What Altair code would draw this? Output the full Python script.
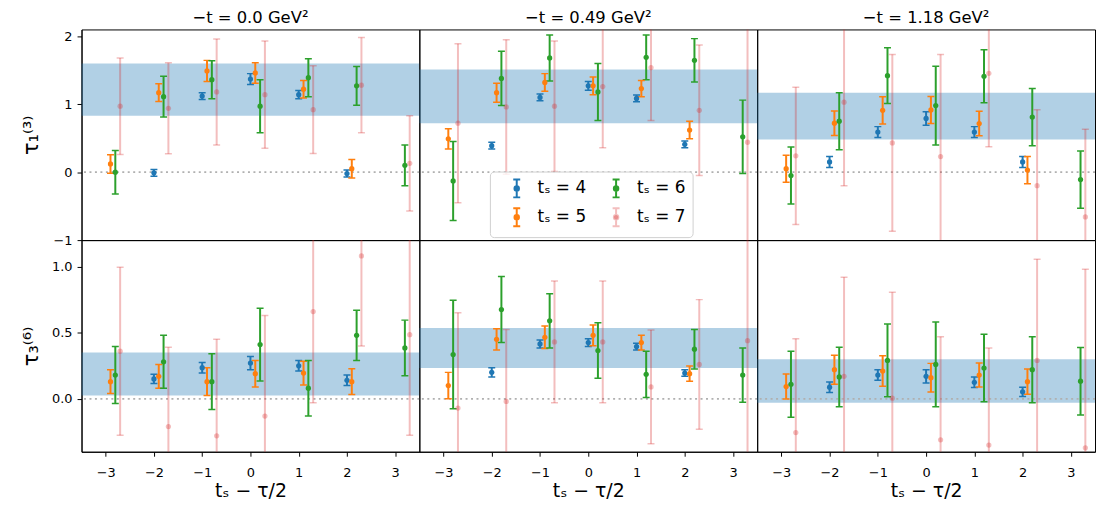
import altair as alt
import pandas as pd

FONT = "DejaVu Sans"

TS = ["tₛ = 4", "tₛ = 5", "tₛ = 6", "tₛ = 7"]
TS_COLORS = ["#1f77b4", "#ff7f0e", "#2ca02c", "rgba(214,39,40,0.3)"]

COL_TITLES = ["−t = 0.0 GeV²", "−t = 0.49 GeV²", "−t = 1.18 GeV²"]
ROW_TITLES = ["τ₁⁽³⁾", "τ₃⁽⁶⁾"]
X_TITLE = "tₛ − τ/2"

X_DOMAIN = [-3.5, 3.5]
X_TICKS = [-3, -2, -1, 0, 1, 2, 3]
Y_DOMAINS = [[-1.0, 2.1], [-0.4, 1.2]]
Y_TICKS = [[-1, 0, 1, 2], [0.0, 0.5, 1.0]]
Y_FORMATS = ["d", ".1f"]

# x positions of each source-sink separation
X4 = [-2, -1, 0, 1, 2]
X5 = [-2.9, -1.9, -0.9, 0.1, 1.1, 2.1]
X6 = [-2.8, -1.8, -0.8, 0.2, 1.2, 2.2, 3.2]
X7 = [-2.7, -1.7, -0.7, 0.3, 1.3, 2.3, 3.3]

# ---- tau_1^(3), -t = 0.0
P11_Y4 = [-0.01, 1.12, 1.37, 1.14, -0.02]
P11_E4 = [0.05, 0.05, 0.08, 0.06, 0.05]
P11_Y5 = [0.12, 1.17, 1.49, 1.46, 1.22, 0.05]
P11_E5 = [0.135, 0.13, 0.155, 0.15, 0.13, 0.135]
P11_Y6 = [0.00, 1.11, 1.36, 0.97, 1.39, 1.27, 0.10]
P11_E6 = [0.32, 0.30, 0.28, 0.39, 0.28, 0.285, 0.30]
P11_Y7 = [0.97, 0.94, 1.18, 1.14, 0.92, 1.28, 0.13]
P11_E7 = [0.71, 0.67, 0.78, 0.79, 0.645, 0.70, 0.70]
P11_BAND = [0.83, 1.60]

# ---- tau_1^(3), -t = 0.49
P12_Y4 = [0.39, 1.10, 1.27, 1.085, 0.41]
P12_E4 = [0.05, 0.05, 0.065, 0.05, 0.05]
P12_Y5 = [0.49, 1.17, 1.32, 1.27, 1.23, 0.62]
P12_E5 = [0.15, 0.14, 0.13, 0.13, 0.12, 0.13]
P12_Y6 = [-0.13, 1.38, 1.68, 1.18, 1.69, 1.645, 0.52]
P12_E6 = [0.58, 0.40, 0.34, 0.42, 0.33, 0.32, 0.54]
P12_Y7 = [0.72, 0.96, 0.97, 1.26, 1.54, 0.91, 0.44]
P12_E7 = [1.17, 0.99, 0.96, 0.90, 0.78, 0.96, 2.5]
P12_BAND = [0.72, 1.51]

# ---- tau_1^(3), -t = 1.18
P13_Y4 = [0.15, 0.59, 0.79, 0.59, 0.15]
P13_E4 = [0.08, 0.08, 0.10, 0.08, 0.08]
P13_Y5 = [0.05, 0.72, 0.91, 0.915, 0.715, 0.03]
P13_E5 = [0.20, 0.18, 0.20, 0.20, 0.18, 0.20]
P13_Y6 = [-0.05, 0.75, 1.42, 0.98, 1.41, 0.81, -0.11]
P13_E6 = [0.42, 0.42, 0.41, 0.58, 0.39, 0.42, 0.42]
P13_Y7 = [0.24, 1.03, 0.43, 0.23, 1.455, -0.20, -0.66]
P13_E7 = [1.01, 1.23, 1.30, 1.5, 1.08, 1.12, 1.29]
P13_BAND = [0.48, 1.17]

# ---- tau_3^(6), -t = 0.0
P21_Y4 = [0.15, 0.235, 0.27, 0.25, 0.14]
P21_E4 = [0.035, 0.04, 0.05, 0.04, 0.04]
P21_Y5 = [0.13, 0.17, 0.13, 0.19, 0.195, 0.13]
P21_E5 = [0.09, 0.09, 0.105, 0.10, 0.09, 0.097]
P21_Y6 = [0.18, 0.28, 0.13, 0.41, 0.08, 0.48, 0.385]
P21_E6 = [0.215, 0.20, 0.21, 0.275, 0.21, 0.19, 0.21]
P21_Y7 = [0.36, -0.21, -0.28, -0.13, 0.66, 1.08, 0.485]
P21_E7 = [0.635, 0.60, 0.73, 0.76, 0.69, 0.68, 0.76]
P21_BAND = [0.025, 0.35]

# ---- tau_3^(6), -t = 0.49
P22_Y4 = [0.20, 0.415, 0.425, 0.395, 0.195]
P22_E4 = [0.035, 0.03, 0.03, 0.025, 0.025]
P22_Y5 = [0.10, 0.45, 0.465, 0.48, 0.425, 0.19]
P22_E5 = [0.10, 0.08, 0.085, 0.078, 0.055, 0.058]
P22_Y6 = [0.335, 0.675, 0.59, 0.365, 0.185, 0.375, 0.18]
P22_E6 = [0.41, 0.25, 0.205, 0.21, 0.175, 0.15, 0.205]
P22_Y7 = [-0.07, -0.02, 0.43, 0.43, 0.09, 0.26, 0.44]
P22_E7 = [0.72, 0.545, 0.46, 0.46, 0.43, 0.49, 1.5]
P22_BAND = [0.233, 0.536]

# ---- tau_3^(6), -t = 1.18
P23_Y4 = [0.088, 0.18, 0.17, 0.125, 0.053]
P23_E4 = [0.04, 0.04, 0.05, 0.04, 0.035]
P23_Y5 = [0.093, 0.22, 0.21, 0.16, 0.18, 0.13]
P23_E5 = [0.095, 0.11, 0.115, 0.108, 0.09, 0.095]
P23_Y6 = [0.11, 0.165, 0.29, 0.26, 0.233, 0.22, 0.133]
P23_E6 = [0.25, 0.225, 0.275, 0.32, 0.255, 0.25, 0.255]
P23_Y7 = [-0.255, 0.17, 0.005, -0.31, -0.35, 0.29, -0.37]
P23_E7 = [0.71, 0.75, 0.80, 0.78, 0.735, 0.765, 1.35]
P23_BAND = [-0.03, 0.30]

PANELS = [
    [
        ([P11_Y4, P11_Y5, P11_Y6, P11_Y7], [P11_E4, P11_E5, P11_E6, P11_E7], P11_BAND),
        ([P12_Y4, P12_Y5, P12_Y6, P12_Y7], [P12_E4, P12_E5, P12_E6, P12_E7], P12_BAND),
        ([P13_Y4, P13_Y5, P13_Y6, P13_Y7], [P13_E4, P13_E5, P13_E6, P13_E7], P13_BAND),
    ],
    [
        ([P21_Y4, P21_Y5, P21_Y6, P21_Y7], [P21_E4, P21_E5, P21_E6, P21_E7], P21_BAND),
        ([P22_Y4, P22_Y5, P22_Y6, P22_Y7], [P22_E4, P22_E5, P22_E6, P22_E7], P22_BAND),
        ([P23_Y4, P23_Y5, P23_Y6, P23_Y7], [P23_E4, P23_E5, P23_E6, P23_E7], P23_BAND),
    ],
]
XS = [X4, X5, X6, X7]

W = 340
H = [212, 213]

ERRBAR_PATH = (
    "M0,-1V1M-0.39,-1H0.39M-0.39,1H0.39"
    "M0.25,0A0.25,0.25,0,1,1,-0.25,0A0.25,0.25,0,1,1,0.25,0Z"
    "M0.1,0A0.1,0.1,0,1,1,-0.1,0A0.1,0.1,0,1,1,0.1,0Z"
)

LEGEND = alt.Legend(
    title=None, orient="none", legendX=411, legendY=143, columns=2,
    symbolType=ERRBAR_PATH, symbolSize=324, symbolStrokeWidth=2, symbolOffset=10,
    labelFontSize=17, labelFont=FONT, labelColor="black", labelOffset=11,
    fillColor="rgba(255,255,255,0.8)", strokeColor="#d0d0d0", cornerRadius=4,
    padding=7, rowPadding=3, columnPadding=10,
)


def make_df(ys_list, es_list):
    recs = []
    for ts, xs, ys, es in zip(TS, XS, ys_list, es_list):
        for x, y, e in zip(xs, ys, es):
            recs.append({"ts": ts, "x": x, "y": y, "lo": y - e, "hi": y + e})
    return pd.DataFrame(recs)


def panel(r, c):
    ys_list, es_list, band = PANELS[r][c]
    df = make_df(ys_list, es_list)
    xs = alt.Scale(domain=X_DOMAIN, nice=False, zero=False)
    ysc = alt.Scale(domain=Y_DOMAINS[r], nice=False, zero=False)
    if r == 1:
        xaxis = alt.Axis(values=X_TICKS, format="d", title=X_TITLE, grid=False,
                         tickSize=4.5, labelPadding=10, labelFontSize=13, labelFont=FONT,
                         titleFontSize=19, titleFont=FONT, titleFontWeight="normal",
                         titlePadding=3, labelColor="black", tickColor="black",
                         titleColor="black", domainColor="black")
    else:
        xaxis = None
    if c == 0:
        yaxis = alt.Axis(values=Y_TICKS[r], format=Y_FORMATS[r], title=ROW_TITLES[r], grid=False,
                         tickSize=4.5, labelPadding=5, labelFontSize=13, labelFont=FONT,
                         titleFontSize=21, titleFont=FONT, titleFontWeight="normal",
                         titlePadding=10, minExtent=30, maxExtent=30,
                         labelColor="black", tickColor="black", titleColor="black",
                         domainColor="black")
    else:
        yaxis = None

    def X(f):
        return alt.X(f, type="quantitative", scale=xs, axis=xaxis)

    def Y(f):
        return alt.Y(f, type="quantitative", scale=ysc, axis=yaxis)

    color = alt.Color("ts:N", scale=alt.Scale(domain=TS, range=TS_COLORS), legend=LEGEND)

    band_df = pd.DataFrame({"x0": [X_DOMAIN[0]], "x1": [X_DOMAIN[1]], "lo": [band[0]], "hi": [band[1]]})
    band_l = alt.Chart(band_df).mark_rect(color="#1f77b4", opacity=0.35, strokeWidth=0).encode(
        x=X("x0"), x2="x1", y=Y("lo"), y2="hi")
    zero_l = alt.Chart(pd.DataFrame({"y0": [0.0]})).mark_rule(
        color="#b0b0b0", strokeDash=[2, 3.5], strokeWidth=1.7).encode(y=Y("y0"))
    bars = alt.Chart(df).mark_rule(strokeWidth=2, clip=True).encode(
        x=X("x"), y=Y("lo"), y2="hi", color=color)
    cap_lo = alt.Chart(df).mark_tick(orient="horizontal", size=7, thickness=1.5, opacity=1, clip=True).encode(
        x=X("x"), y=Y("lo"), color=color)
    cap_hi = alt.Chart(df).mark_tick(orient="horizontal", size=7, thickness=1.5, opacity=1, clip=True).encode(
        x=X("x"), y=Y("hi"), color=color)
    pts = alt.Chart(df).mark_point(filled=True, size=28, opacity=1, strokeWidth=1, clip=True).encode(
        x=X("x"), y=Y("y"), color=color)

    ch = alt.layer(band_l, zero_l, bars, cap_lo, cap_hi, pts).properties(width=W, height=H[r])
    if r == 0:
        ch = ch.properties(title=alt.TitleParams(COL_TITLES[c], fontSize=16.5, font=FONT,
                                                 fontWeight="normal", color="black", offset=3))
    return ch


chart = alt.concat(*[panel(r, c) for r in range(2) for c in range(3)],
                   columns=3, spacing=0, bounds="flush").properties(
    padding={"left": 12, "top": 0, "right": 0, "bottom": 0}
).resolve_scale(x="independent", y="independent").configure(
    font=FONT, view=alt.ViewConfig(stroke="black", strokeWidth=1))

chart.save("out.html", embed_options={"renderer": "svg", "actions": False})
